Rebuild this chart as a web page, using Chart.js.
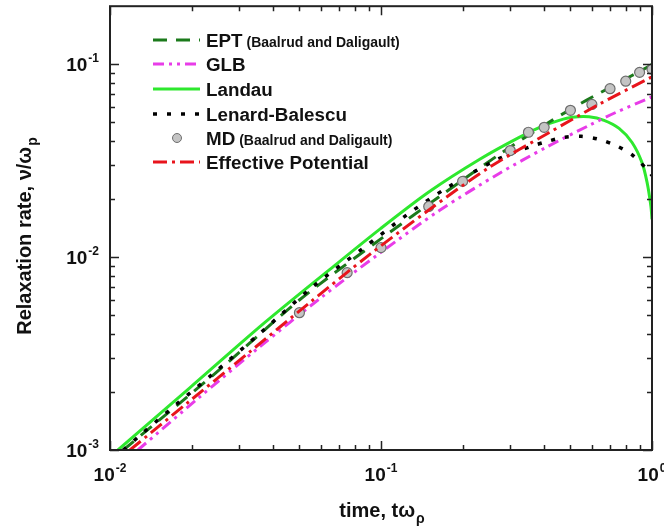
<!DOCTYPE html>
<html>
<head>
<meta charset="utf-8">
<script src="https://cdn.jsdelivr.net/npm/chart.js@4.4.0/dist/chart.umd.min.js"></script>
<style>
  body { margin: 0; background: #fff; }
  canvas { display: block; }
</style>
</head>
<body>
<canvas id="relax-canvas" width="664" height="532"></canvas>
<script>
// values: time t*omega_p and rate nu/omega_p
var landauT = [0.0107, 0.0197, 0.0372, 0.0646, 0.0996, 0.151, 0.2306, 0.3236, 0.400, 0.4544, 0.507, 0.586, 0.6655, 0.756, 0.843, 0.918, 0.959, 0.991, 1.0];
var landauV = [0.00100, 0.00210, 0.00457, 0.00861, 0.01406, 0.0219, 0.0321, 0.0418, 0.0482, 0.0512, 0.0531, 0.0534, 0.0512, 0.0465, 0.0394, 0.0310, 0.0244, 0.0183, 0.0157];

var eptT = [0.0112, 0.0248, 0.0501, 0.1013, 0.1684, 0.280, 0.428, 0.572, 0.736, 0.975, 1.0];
var eptV = [0.00100, 0.00254, 0.00601, 0.01262, 0.02114, 0.0349, 0.0512, 0.0650, 0.0787, 0.0977, 0.100];

var glbT = [0.01268, 0.02145, 0.0357, 0.0594, 0.0996, 0.1642, 0.273, 0.407, 0.586, 0.736, 0.991, 1.0];
var glbV = [0.00100, 0.001885, 0.00343, 0.00609, 0.01055, 0.01744, 0.02715, 0.0371, 0.0482, 0.0563, 0.0674, 0.0680];

var lbT = [0.0112, 0.01323, 0.01765, 0.02375, 0.0363, 0.0555, 0.0855, 0.1252, 0.1758, 0.2685, 0.358, 0.4106, 0.474, 0.548, 0.638, 0.736, 0.843, 0.975, 1.0];
var lbV = [0.00100, 0.001226, 0.001733, 0.002454, 0.00410, 0.00695, 0.01106, 0.01664, 0.02296, 0.0321, 0.0375, 0.0398, 0.0418, 0.0423, 0.0408, 0.0379, 0.0340, 0.0278, 0.0265];

var mdT = [0.05, 0.075, 0.1, 0.15, 0.2, 0.3, 0.35, 0.4, 0.5, 0.6, 0.7, 0.8, 0.9, 1.0];
var mdV = [0.00515, 0.00831, 0.0112, 0.0183, 0.0247, 0.0357, 0.0444, 0.0471, 0.0577, 0.0619, 0.0747, 0.0817, 0.0908, 0.0942];

var effT = [0.01185, 0.01971, 0.0328, 0.0545, 0.0907, 0.151, 0.2509, 0.418, 0.638, 0.991, 1.0];
var effV = [0.00100, 0.001797, 0.00323, 0.00580, 0.0103, 0.01765, 0.0292, 0.0443, 0.0620, 0.0855, 0.0860];

var legendNames = ['EPT', 'GLB', 'Landau', 'Lenard-Balescu', 'MD', 'Effective Potential'];
var legendNotes = ['(Baalrud and Daligault)', '', '', '', '(Baalrud and Daligault)', ''];

var xMajor = [0.01, 0.1, 1];
var xMajorExp = ['-2', '-1', '0'];
var yMajor = [0.001, 0.01, 0.1];
var yMajorExp = ['-3', '-2', '-1'];

var FONT = '"Liberation Sans", Arial, sans-serif';

function pairs(ts, vs) {
    return ts.map(function(t, i) { return { x: t, y: vs[i] }; });
}

function minorTicks(min, max) {
    var out = [];
    for (var d = 1e-4; d < max; d *= 10) {
        for (var m = 2; m <= 9; m++) {
            var v = m * d;
            if (v > min * 1.0001 && v < max * 0.9999) out.push(v);
        }
    }
    return out;
}

// draws "10" with a raised exponent; align 'right' or 'center'
function powerLabel(ctx, x, y, exp, align) {
    ctx.font = 'bold 19px ' + FONT;
    var wBase = ctx.measureText('10').width;
    ctx.font = 'bold 12px ' + FONT;
    var wExp = ctx.measureText(exp).width;
    var total = wBase + 1 + wExp;
    var x0 = align === 'right' ? x - total : x - total / 2;
    ctx.textAlign = 'left';
    ctx.textBaseline = 'alphabetic';
    ctx.font = 'bold 19px ' + FONT;
    ctx.fillText('10', x0, y);
    ctx.font = 'bold 12px ' + FONT;
    ctx.fillText(exp, x0 + wBase + 1, y - 9);
}

function titleWithSub(ctx, main, sub, cx, baseY) {
    ctx.font = 'bold 20px ' + FONT;
    var w1 = ctx.measureText(main).width;
    ctx.font = 'bold 14px ' + FONT;
    var w2 = ctx.measureText(sub).width;
    var x0 = cx - (w1 + w2 + 1) / 2;
    ctx.textAlign = 'left';
    ctx.font = 'bold 20px ' + FONT;
    ctx.fillText(main, x0, baseY);
    ctx.font = 'bold 14px ' + FONT;
    ctx.fillText(sub, x0 + w1 + 1, baseY + 6);
}

var framePlugin = {
    id: 'frameAndText',
    afterDraw: function(chart) {
        var ctx = chart.ctx;
        var a = chart.chartArea;
        var xs = chart.scales.x, ys = chart.scales.y;
        ctx.save();
        ctx.strokeStyle = '#222';
        ctx.fillStyle = '#111';
        ctx.setLineDash([]);

        // frame
        ctx.lineWidth = 2;
        ctx.strokeRect(a.left, a.top, a.right - a.left, a.bottom - a.top);

        // inward ticks on all four sides
        ctx.lineWidth = 1.5;
        function xTick(v, len) {
            var px = Math.round(xs.getPixelForValue(v)) + 0.5;
            ctx.beginPath();
            ctx.moveTo(px, a.bottom); ctx.lineTo(px, a.bottom - len);
            ctx.moveTo(px, a.top); ctx.lineTo(px, a.top + len);
            ctx.stroke();
        }
        function yTick(v, len) {
            var py = Math.round(ys.getPixelForValue(v)) + 0.5;
            ctx.beginPath();
            ctx.moveTo(a.left, py); ctx.lineTo(a.left + len, py);
            ctx.moveTo(a.right, py); ctx.lineTo(a.right - len, py);
            ctx.stroke();
        }
        xMajor.forEach(function(v) { xTick(v, 9); });
        minorTicks(xs.min, xs.max).forEach(function(v) { xTick(v, 5); });
        yMajor.forEach(function(v) { yTick(v, 9); });
        minorTicks(ys.min, ys.max).forEach(function(v) { yTick(v, 5); });

        // tick labels
        xMajor.forEach(function(v, i) {
            powerLabel(ctx, xs.getPixelForValue(v), 481, xMajorExp[i], 'center');
        });
        yMajor.forEach(function(v, i) {
            powerLabel(ctx, 99, ys.getPixelForValue(v) + 7, yMajorExp[i], 'right');
        });

        // axis titles
        titleWithSub(ctx, 'time, t\u03c9', '\u03c1', 382, 517);
        ctx.save();
        ctx.translate(31, 236);
        ctx.rotate(-Math.PI / 2);
        titleWithSub(ctx, 'Relaxation rate, \u03bd/\u03c9', 'p', 0, 0);
        ctx.restore();

        // legend
        var rowY = [40, 64, 89, 114, 138, 162];
        var order = [1, 2, 0, 3, 4, 5]; // dataset index for each legend row
        order.forEach(function(di, r) {
            var ds = chart.data.datasets[di];
            var y = rowY[r];
            if (ds.showLine === false) {
                ctx.beginPath();
                ctx.setLineDash([]);
                ctx.arc(177, y, 4.5, 0, Math.PI * 2);
                ctx.fillStyle = ds.backgroundColor;
                ctx.fill();
                ctx.lineWidth = 1;
                ctx.strokeStyle = ds.borderColor;
                ctx.stroke();
            } else {
                ctx.beginPath();
                ctx.setLineDash(ds.borderDash || []);
                ctx.lineWidth = ds.borderWidth;
                ctx.strokeStyle = ds.borderColor;
                ctx.moveTo(153, y);
                ctx.lineTo(200, y);
                ctx.stroke();
            }
            ctx.setLineDash([]);
            ctx.fillStyle = '#111';
            ctx.textAlign = 'left';
            ctx.font = 'bold 18.8px ' + FONT;
            ctx.fillText(legendNames[r], 206, y + 7);
            if (legendNotes[r]) {
                var w = ctx.measureText(legendNames[r]).width;
                ctx.font = 'bold 14px ' + FONT;
                ctx.fillText(legendNotes[r], 206 + w + 4, y + 7);
            }
        });
        ctx.restore();
    }
};

var ctx = document.getElementById('relax-canvas').getContext('2d');
var chartObj = new Chart(ctx, {
    type: 'line',
    data: {
        datasets: [
            { label: 'Landau', data: pairs(landauT, landauV), borderColor: '#2ee82e', borderWidth: 3,
              pointRadius: 0, tension: 0.3, order: 6 },
            { label: 'EPT', data: pairs(eptT, eptV), borderColor: '#1b7a1b', borderWidth: 3,
              borderDash: [14, 9], pointRadius: 0, tension: 0.3, order: 4 },
            { label: 'GLB', data: pairs(glbT, glbV), borderColor: '#e83ce8', borderWidth: 3,
              borderDash: [11, 5, 3, 5, 3, 5], pointRadius: 0, tension: 0.3, order: 5 },
            { label: 'Lenard-Balescu', data: pairs(lbT, lbV), borderColor: '#000000', borderWidth: 3.5,
              borderDash: [4, 10], pointRadius: 0, tension: 0.3, order: 3 },
            { label: 'MD', data: pairs(mdT, mdV), showLine: false, pointRadius: 5,
              backgroundColor: '#c4c4c4', borderColor: '#6e6e6e', borderWidth: 1.2, order: 2 },
            { label: 'Effective Potential', data: pairs(effT, effV), borderColor: '#e8141c', borderWidth: 3,
              borderDash: [14, 5, 3, 5], pointRadius: 0, tension: 0.3, order: 1 }
        ]
    },
    options: {
        responsive: false,
        animation: false,
        layout: { padding: { left: 110, top: 5, right: 12, bottom: 82 } },
        plugins: { legend: { display: false }, tooltip: { enabled: false } },
        scales: {
            x: { type: 'logarithmic', min: 0.01, max: 1, display: false },
            y: { type: 'logarithmic', min: 0.001, max: 0.2, display: false }
        }
    },
    plugins: [framePlugin]
});
</script>
</body>
</html>
